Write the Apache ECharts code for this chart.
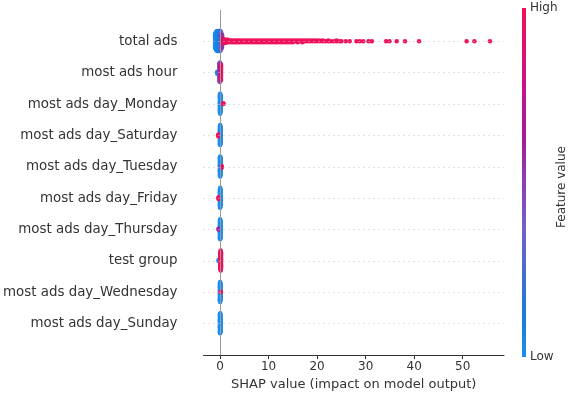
<!DOCTYPE html>
<html>
<head>
<meta charset="utf-8">
<style>
  html, body { margin: 0; padding: 0; background: #fff; }
  #chart { width: 577px; height: 396px; }
</style>
<script src="https://cdn.jsdelivr.net/npm/echarts@6/dist/echarts.min.js"></script>
</head>
<body>
<div id="chart"></div>
<script>
// features, top to bottom
var featureNames = [
  'total ads',
  'most ads hour',
  'most ads day_Monday',
  'most ads day_Saturday',
  'most ads day_Tuesday',
  'most ads day_Friday',
  'most ads day_Thursday',
  'test group',
  'most ads day_Wednesday',
  'most ads day_Sunday'
];

// [shap value, feature value (0 low .. 1 high), how many points]
var totalAdsShap = [
  [-1.0, 0.02, 18], [-0.8, 0.03, 22], [-0.6, 0.04, 24], [-0.4, 0.05, 24], [-0.2, 0.07, 24],
  [0.0, 0.12, 24], [0.2, 0.35, 22], [0.4, 0.55, 16], [0.6, 0.8, 6], [0.8, 0.95, 5],
  [1.0, 1, 5], [1.3, 1, 4], [1.6, 1, 4], [2.0, 1, 3], [2.4, 1, 3], [2.8, 1, 3], [3.2, 1, 3],
  [3.6, 1, 3], [4.0, 1, 3], [4.5, 1, 3], [5.0, 1, 3], [5.5, 1, 3], [6.0, 1, 3], [6.5, 1, 3],
  [7.0, 1, 3], [7.5, 1, 3], [8.0, 1, 3], [8.5, 1, 3], [9.0, 1, 3], [9.5, 1, 3], [10.0, 1, 3],
  [10.5, 1, 3], [11.0, 1, 3], [11.5, 1, 3], [12.0, 1, 3], [12.5, 1, 3], [13.0, 1, 3],
  [13.5, 1, 3], [14.0, 1, 3], [14.5, 1, 3], [15.0, 1, 3], [15.5, 1, 2], [16.0, 1, 3],
  [16.5, 1, 2], [17.0, 1, 3], [17.5, 1, 2], [18.0, 1, 2], [18.5, 1, 2], [19.0, 1, 2],
  [19.5, 1, 2], [20.0, 1, 2], [20.6, 1, 2], [21.2, 1, 2], [21.7, 1, 1], [22.3, 1, 2],
  [22.8, 1, 1], [23.4, 1, 1], [24.0, 1, 2], [24.6, 1, 1], [25.0, 1, 1],
  [25.9, 1, 1], [26.7, 1, 1], [28.1, 1, 1], [28.8, 1, 1], [29.5, 1, 1], [30.6, 1, 1],
  [31.3, 1, 1], [34.2, 1, 1], [34.9, 1, 1], [36.4, 1, 1], [38.1, 1, 1], [41.0, 1, 1],
  [50.8, 1, 1], [52.4, 1, 1], [55.6, 1, 1]
];
var hourShap = [[-0.55, 0.08, 3], [-0.12, 0.25, 18], [-0.04, 0.4, 20], [0.04, 0.5, 18], [0.12, 0.6, 16], [0.2, 0.95, 16]];
var mondayShap = [[-0.01, 0, 22], [0.04, 0, 24], [0.09, 0.02, 20], [0.7, 1, 2]];
var saturdayShap = [[-0.35, 1, 3], [-0.01, 0, 22], [0.04, 0, 24], [0.09, 0.02, 20]];
var tuesdayShap = [[-0.01, 0, 22], [0.04, 0, 24], [0.09, 0.02, 20], [0.35, 0.9, 3]];
var fridayShap = [[-0.3, 1, 3], [-0.01, 0, 22], [0.04, 0, 24], [0.09, 0, 20]];
var thursdayShap = [[-0.3, 0.6, 2], [-0.01, 0, 22], [0.04, 0, 24], [0.09, 0, 20]];
var testGroupShap = [[-0.3, 0.02, 2], [0.1, 1, 20], [0.15, 1, 24], [0.2, 1, 20]];
var wednesdayShap = [[-0.01, 0, 22], [0.04, 0, 24], [0.09, 0, 20], [0.15, 1, 2]];
var sundayShap = [[-0.01, 0, 22], [0.04, 0, 24], [0.09, 0, 20]];

var xTicks = [0, 10, 20, 30, 40, 50];
var colorStops = ['#1a8ff0', '#1b7ad8', '#4a6ccf', '#7560c4', '#8e3fb0', '#a21c9c', '#c0168a', '#db1272', '#f0115a'];

var rowsShap = [totalAdsShap, hourShap, mondayShap, saturdayShap, tuesdayShap,
  fridayShap, thursdayShap, testGroupShap, wednesdayShap, sundayShap];
var nRows = featureNames.length;

// beeswarm stacking like shap: points sharing a value pile up alternately above/below
function swarm(entries, row) {
  var pts = [];
  var maxLayer = 0;
  entries.forEach(function (e) {
    for (var k = 0; k < e[2]; k++) {
      var layer = Math.ceil(k / 2) * (k % 2 ? 1 : -1);
      maxLayer = Math.max(maxLayer, Math.abs(layer));
      pts.push([e[0], layer, e[1]]);
    }
  });
  var scale = 0.9 * 0.4 / (maxLayer + 1);
  return pts.map(function (p) { return [p[0], row + p[1] * scale, p[2]]; });
}

var points = [];
rowsShap.forEach(function (entries, i) {
  points = points.concat(swarm(entries, nRows - 1 - i));
});
points.sort(function (a, b) { return a[2] - b[2]; });

var rowLines = [];
for (var r = 0; r < nRows; r++) rowLines.push({ yAxis: r });

var chart = echarts.init(document.getElementById('chart'), null, { renderer: 'canvas' });

var gradStops = colorStops.map(function (c, i) {
  return { offset: i / (colorStops.length - 1), color: c };
});

var option = {
  animation: false,
  textStyle: { fontFamily: 'DejaVu Sans' },
  grid: { left: 203, right: 73, top: 10, bottom: 38 },
  xAxis: {
    type: 'value',
    min: -3.4,
    max: 58.5,
    name: 'SHAP value (impact on model output)',
    nameLocation: 'middle',
    nameGap: 20,
    nameTextStyle: { fontSize: 13, color: '#333' },
    axisLine: { show: true, onZero: false, lineStyle: { color: '#333', width: 1 } },
    axisTick: { show: true, length: 4, lineStyle: { color: '#333' }, customValues: xTicks },
    axisLabel: { fontSize: 12, color: '#333', margin: 6, customValues: xTicks },
    splitLine: { show: false }
  },
  yAxis: {
    type: 'value',
    min: -1,
    max: nRows,
    axisLine: { show: false },
    axisTick: { show: false },
    splitLine: { show: false },
    axisLabel: {
      fontSize: 13.4,
      color: '#333',
      margin: 26,
      customValues: rowLines.map(function (d) { return d.yAxis; }),
      formatter: function (v) { return featureNames[nRows - 1 - v]; }
    }
  },
  visualMap: {
    show: false,
    type: 'continuous',
    dimension: 2,
    min: 0,
    max: 1,
    inRange: { color: colorStops }
  },
  series: [
    {
      type: 'scatter',
      data: [],
      silent: true,
      z: 1,
      markLine: {
        silent: true,
        symbol: 'none',
        label: { show: false },
        animation: false,
        data: rowLines,
        lineStyle: { color: '#c4c4c4', width: 1, type: [1, 4] }
      }
    },
    {
      type: 'scatter',
      data: [],
      silent: true,
      z: 1,
      markLine: {
        silent: true,
        symbol: 'none',
        label: { show: false },
        animation: false,
        data: [{ xAxis: 0 }],
        lineStyle: { color: '#999999', width: 1, type: 'solid' }
      }
    },
    {
      type: 'scatter',
      z: 3,
      symbolSize: 4.5,
      itemStyle: { opacity: 1 },
      data: points
    }
  ],
  graphic: [
    {
      type: 'rect',
      left: 522,
      top: 8,
      shape: { width: 4, height: 349 },
      style: {
        fill: new echarts.graphic.LinearGradient(0, 1, 0, 0, gradStops)
      }
    },
    {
      type: 'text',
      left: 530,
      top: 2,
      style: { text: 'High', fontSize: 12, fill: '#333', fontFamily: 'DejaVu Sans' }
    },
    {
      type: 'text',
      left: 530,
      top: 351,
      style: { text: 'Low', fontSize: 12, fill: '#333', fontFamily: 'DejaVu Sans' }
    },
    {
      type: 'text',
      x: 556,
      y: 228,
      rotation: Math.PI / 2,
      style: { text: 'Feature value', fontSize: 12, fill: '#333', fontFamily: 'DejaVu Sans' }
    }
  ]
};

chart.setOption(option);
</script>
</body>
</html>
